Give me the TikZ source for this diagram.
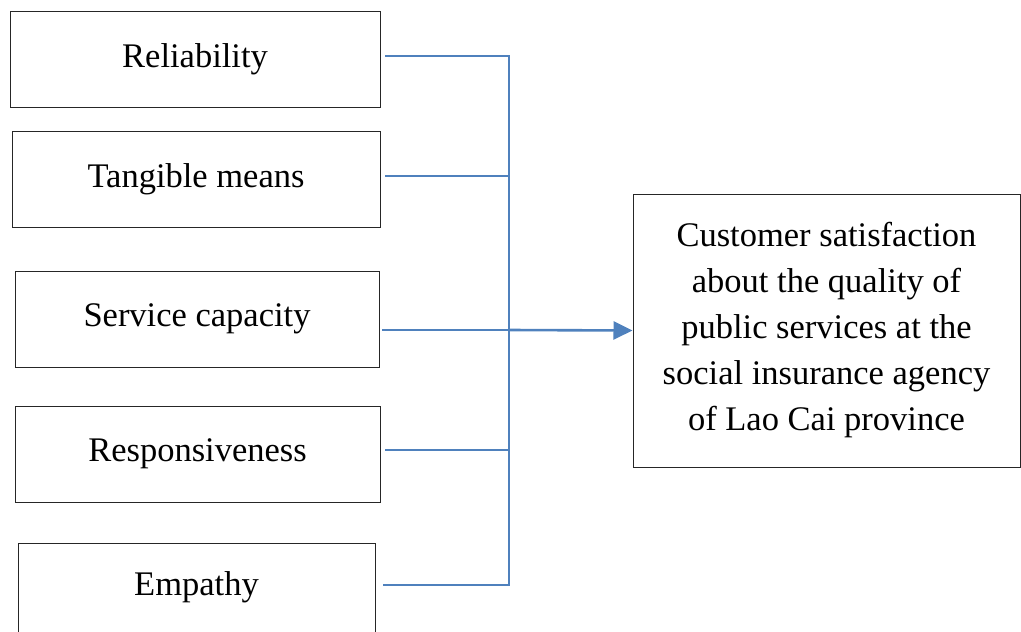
\documentclass[tikz,border=0pt]{standalone}
\usepackage{fontspec}
\setmainfont{Liberation Serif}
\usetikzlibrary{arrows.meta}
\definecolor{linkblue}{HTML}{4F81BD}
\begin{document}
\begin{tikzpicture}[x=1pt,y=-1pt,
  label text/.style={font=\fontsize{34.5}{46}\selectfont},
  factor/.style={draw=black!85,line width=1pt,minimum width=#1,minimum height=96pt,inner sep=0pt,label text},
  factor/.default=368pt,
  outcome/.style={draw=black!85,line width=1pt,minimum width=387pt,minimum height=273pt,inner sep=0pt,
    align=center,label text},
  link/.style={draw=linkblue,line width=1.6pt},
  mainlink/.style={draw=linkblue,line width=2.6pt,-{Triangle[length=19pt,width=18pt]}}]
\useasboundingbox (0,0) rectangle (1021,632);

% factor boxes
\node[factor=370pt] (rel) at (195,59.5) {Reliability};
\node[factor=368pt] (tan) at (196,179) {Tangible means};
\node[factor=364pt] (ser) at (197,319) {Service capacity};
\node[factor=365pt] (res) at (197.5,454) {Responsiveness};
\node[factor=357pt,minimum height=110pt] (emp) at (196.5,598) {};
\node[label text] (empt) at (196.5,587) {Empathy};

% outcome box
\node[outcome] (sat) at (826.5,330.5) {Customer satisfaction\\about the quality of\\public services at the\\social insurance agency\\of Lao Cai province};

% connector start points and bus
\coordinate (s1) at (385,56);
\coordinate (s2) at (385,176);
\coordinate (s3) at (382,330);
\coordinate (s4) at (385,450);
\coordinate (s5) at (383,585);
\coordinate (bus) at (509,330);

\draw[link] (s1) -- (s1 -| bus) -- (s5 -| bus) -- (s5);
\draw[link] (s2) -- (s2 -| bus);
\draw[link] (s3) -- (bus);
\draw[link] (s4) -- (s4 -| bus);
\draw[mainlink] (bus) -- (sat.west);
\end{tikzpicture}
\end{document}
